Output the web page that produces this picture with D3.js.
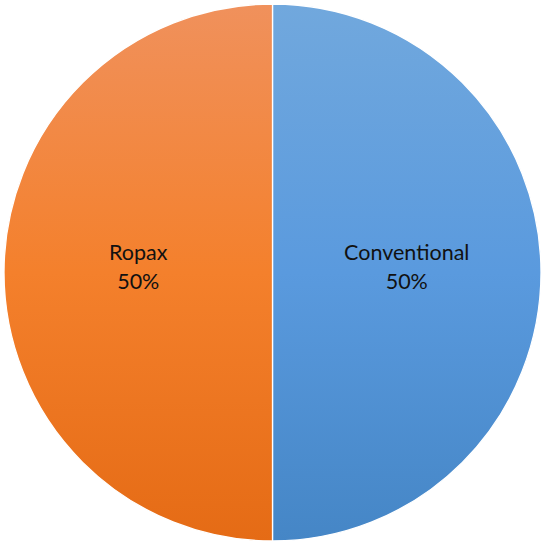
<!DOCTYPE html>
<html><head><meta charset="utf-8">
<script src="https://cdn.jsdelivr.net/npm/d3@7"></script>
<style>html,body{margin:0;padding:0;background:#fff;overflow:hidden}</style>
</head><body>
<svg id="c" width="541" height="541"></svg>
<script>
const categories = ["Conventional", "Ropax"];
const values = [50, 50];
const percentLabels = ["50%", "50%"];

const W = 541, H = 541, cx = 272.5, cy = 272.5, r = 268.5;
const svg = d3.select("#c");
const defs = svg.append("defs");
const grads = [
  {id: "g0", top: "#71a8dd", mid: "#5a9ade", bot: "#4586c6"},
  {id: "g1", top: "#f0915c", mid: "#f4802c", bot: "#e56b15"}
];
grads.forEach(g => {
  const lg = defs.append("linearGradient").attr("id", g.id)
    .attr("gradientUnits", "userSpaceOnUse")
    .attr("x1", 0).attr("y1", -r).attr("x2", 0).attr("y2", r);
  lg.append("stop").attr("offset", "0%").attr("stop-color", g.top);
  lg.append("stop").attr("offset", "50%").attr("stop-color", g.mid);
  lg.append("stop").attr("offset", "100%").attr("stop-color", g.bot);
});

const pie = d3.pie().sort(null).value(d => d)(values);
const arc = d3.arc().innerRadius(0).outerRadius(r);
const g = svg.append("g").attr("transform", `translate(${cx},${cy})`);
g.selectAll("path").data(pie).join("path")
  .attr("d", arc)
  .attr("fill", (d, i) => `url(#g${i})`)
  .attr("stroke", "#ffffff").attr("stroke-width", 1.3);

const lab = d3.arc().innerRadius(0).outerRadius(r);
const t = g.selectAll("text").data(pie).join("text")
  .attr("text-anchor", "middle")
  .attr("font-family", "Lato, 'Open Sans', sans-serif")
  .attr("font-size", 21.5)
  .attr("fill", "#111");
t.each(function(d, i) {
  const [x, y] = lab.centroid(d);
  const s = d3.select(this);
  s.append("tspan").attr("x", x).attr("y", y - 13).text(categories[i]);
  s.append("tspan").attr("x", x).attr("y", y + 16).text(percentLabels[i]);
});
</script>
</body></html>
